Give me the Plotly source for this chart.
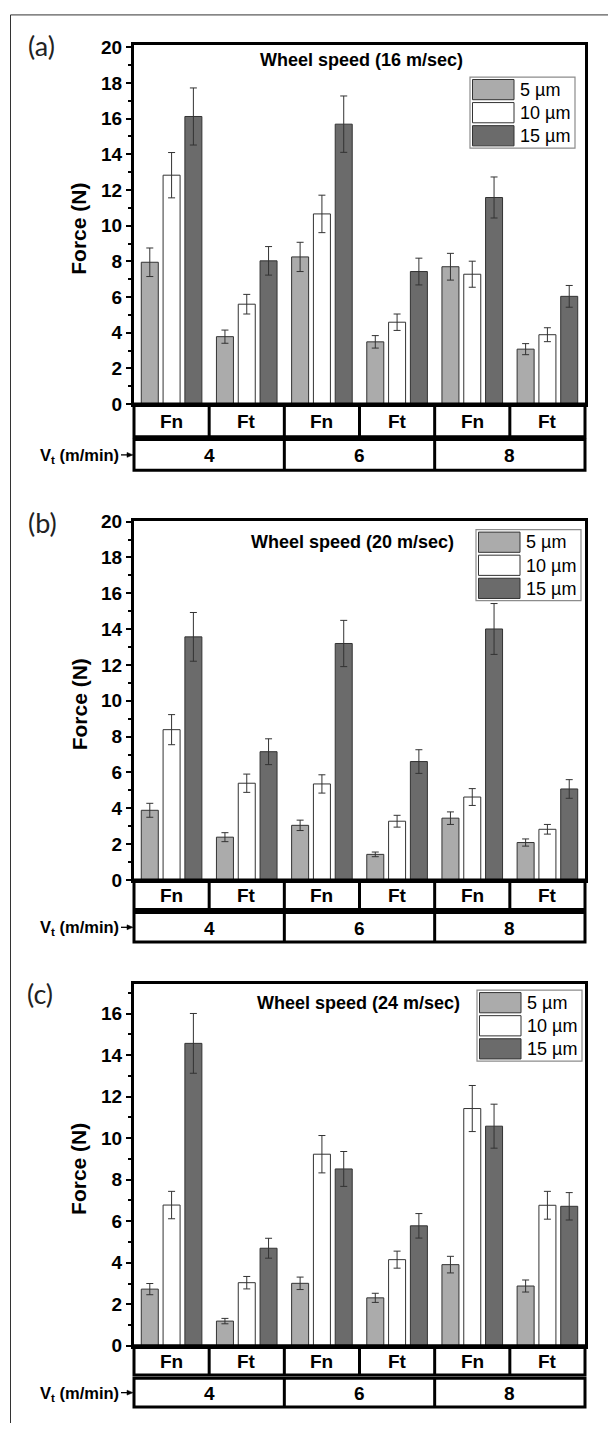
import plotly.graph_objects as go

# ---------------- data ----------------
force_types = ["Fn", "Ft", "Fn", "Ft", "Fn", "Ft"]
speed_labels = ["4", "6", "8"]
size_labels = ["5 µm", "10 µm", "15 µm"]
panel_letters = ["(a)", "(b)", "(c)"]
panel_titles = ["Wheel speed (16 m/sec)", "Wheel speed (20 m/sec)", "Wheel speed (24 m/sec)"]

a_5 = [7.95, 3.78, 8.25, 3.49, 7.70, 3.08]
a_5_err = [0.80, 0.37, 0.82, 0.35, 0.75, 0.31]
a_10 = [12.83, 5.60, 10.66, 4.59, 7.28, 3.89]
a_10_err = [1.27, 0.55, 1.05, 0.46, 0.73, 0.39]
a_15 = [16.12, 8.03, 15.69, 7.43, 11.58, 6.04]
a_15_err = [1.60, 0.80, 1.58, 0.75, 1.15, 0.61]

b_5 = [3.89, 2.39, 3.05, 1.43, 3.45, 2.09]
b_5_err = [0.39, 0.25, 0.29, 0.13, 0.35, 0.20]
b_10 = [8.39, 5.40, 5.36, 3.28, 4.63, 2.83]
b_10_err = [0.84, 0.51, 0.51, 0.33, 0.47, 0.27]
b_15 = [13.57, 7.16, 13.20, 6.61, 14.01, 5.08]
b_15_err = [1.36, 0.72, 1.29, 0.66, 1.42, 0.52]

c_5 = [2.73, 1.19, 3.01, 2.31, 3.91, 2.88]
c_5_err = [0.27, 0.13, 0.30, 0.22, 0.40, 0.29]
c_10 = [6.78, 3.04, 9.23, 4.15, 11.43, 6.77]
c_10_err = [0.66, 0.30, 0.90, 0.41, 1.11, 0.67]
c_15 = [14.57, 4.70, 8.52, 5.78, 10.58, 6.72]
c_15_err = [1.44, 0.48, 0.84, 0.59, 1.06, 0.66]

y_max = [20.1, 20.05, 17.42]

# ---------------- styling / layout constants ----------------
W, H = 608, 1434
colors = ["#ababab", "#ffffff", "#6b6b6b"]
FONT = "Liberation Sans"

# pixel geometry of each panel: (plot top, y=0 line)
panel_px = [(37.0, 400.7), (519.0, 883.3), (989.0, 1355.7)]
x_left, x_right = 134.0, 585.0
table_rows = [(33, 36, 67), (30, 33, 63), (29.5, 33, 62)]
legend_boxes = [(470, 69), (476, 528), (477, 995)]
title_pos = [(361, 52), (352, 541), (358, 1008)]
letter_pos = [(41, 37), (42, 521), (40, 998)]


def px(x):
    return x / W


def py(y):
    return 1 - y / H


def txt(text, x, y, size, xref="paper", xanchor="center", bold=True, family=FONT,
        color="black", angle=0):
    d = dict(text=text, xref=xref, yref="paper", x=x, y=y, xanchor=xanchor,
             yanchor="middle", showarrow=False, textangle=angle,
             font=dict(family=family, size=size, color=color))
    if bold:
        d["font"]["weight"] = "bold"
    return d


x_keys = [f"{f} {speed_labels[i // 2]}" for i, f in enumerate(force_types)]

series = [
    [(a_5, a_5_err), (a_10, a_10_err), (a_15, a_15_err)],
    [(b_5, b_5_err), (b_10, b_10_err), (b_15, b_15_err)],
    [(c_5, c_5_err), (c_10, c_10_err), (c_15, c_15_err)],
]

fig = go.Figure()
shapes = []
annotations = []
LINE = dict(color="black", width=3)

for p in range(3):
    sfx = "" if p == 0 else str(p + 1)
    xa, ya = "x" + sfx, "y" + sfx
    for s in range(3):
        vals, errs = series[p][s]
        fig.add_trace(go.Bar(
            x=x_keys, y=vals, name=size_labels[s], xaxis=xa, yaxis=ya,
            marker=dict(color=colors[s], line=dict(color="#333333", width=1)),
            error_y=dict(type="data", array=errs, color="#333333", thickness=1, width=3.5),
            showlegend=False,
        ))

    top, zero = panel_px[p]
    fig.layout["xaxis" + sfx] = dict(
        domain=[px(x_left), px(x_right)], anchor=ya, type="category",
        categoryorder="array", categoryarray=x_keys,
        showticklabels=False, ticks="", showline=True, mirror=True,
        linecolor="black", linewidth=3, showgrid=False, zeroline=False,
    )
    fig.layout["yaxis" + sfx] = dict(
        domain=[py(zero), py(top)], anchor=xa, range=[0, y_max[p]],
        tickmode="linear", tick0=0, dtick=2, ticks="outside", ticklen=5,
        tickwidth=2, tickcolor="black",
        minor=dict(dtick=1, ticks="outside", ticklen=3, tickwidth=2, tickcolor="black"),
        tickfont=dict(family=FONT, size=19, color="black", weight="bold"),
        showline=True, mirror=True, linecolor="black", linewidth=3,
        showgrid=False, zeroline=False,
    )

    # category table under the axis
    r1b, r2t, r2b = table_rows[p]
    xd = "x" + sfx + " domain"
    shapes.append(dict(type="rect", xref=xd, yref="paper", x0=0, x1=1,
                       y0=py(zero + r1b), y1=py(zero), line=LINE))
    shapes.append(dict(type="rect", xref=xd, yref="paper", x0=0, x1=1,
                       y0=py(zero + r2b), y1=py(zero + r2t), line=LINE))
    n = len(force_types)
    for i in range(1, n):
        shapes.append(dict(type="line", xref=xd, yref="paper", x0=i / n, x1=i / n,
                           y0=py(zero + r1b), y1=py(zero), line=LINE))
    m = len(speed_labels)
    for i in range(1, m):
        shapes.append(dict(type="line", xref=xd, yref="paper", x0=i / m, x1=i / m,
                           y0=py(zero + r2b), y1=py(zero + r2t), line=LINE))
    for i, f in enumerate(force_types):
        annotations.append(txt(f, (i + 0.5) / n, py(zero + r1b / 2 + 1), 19, xref=xd))
    for i, sp in enumerate(speed_labels):
        annotations.append(txt(sp, (i + 0.5) / m, py(zero + (r2t + r2b) / 2 + 1), 19, xref=xd))

    # V_t label with small arrow
    ymid = zero + (r2t + r2b) / 2
    annotations.append(txt("V<sub>t</sub> (m/min)", px(121), py(ymid + 1), 16.5, xanchor="right"))
    shapes.append(dict(type="line", xref="paper", yref="paper", x0=px(121), x1=px(129),
                       y0=py(ymid), y1=py(ymid), line=dict(color="black", width=1.3)))
    shapes.append(dict(type="path", xref="paper", yref="paper",
                       path=f"M {px(127)} {py(ymid - 2.5)} L {px(133)} {py(ymid)} L {px(127)} {py(ymid + 2.5)} Z",
                       fillcolor="black", line=dict(color="black", width=0.5)))

    # y-axis title
    annotations.append(txt("Force (N)", px(79), py((top + zero) / 2 + 4), 21, angle=-90))
    # panel title
    tx, ty = title_pos[p]
    annotations.append(txt(panel_titles[p], px(tx), py(ty), 18))
    # panel letter
    lx, ly = letter_pos[p]
    annotations.append(txt(panel_letters[p], px(lx), py(ly), 27, bold=False,
                           family="Lato", color="#222222"))

    # hand-drawn legend
    bx, by = legend_boxes[p]
    bw, bh = 105, 72
    shapes.append(dict(type="rect", xref="paper", yref="paper", x0=px(bx), x1=px(bx + bw),
                       y0=py(by + bh), y1=py(by), line=dict(color="#8c8c8c", width=1.2),
                       fillcolor="white"))
    for s in range(3):
        sy = by + 2.5 + s * 23.4
        shapes.append(dict(type="rect", xref="paper", yref="paper", x0=px(bx + 2.5), x1=px(bx + 44),
                           y0=py(sy + 20.5), y1=py(sy), line=dict(color="#333333", width=1),
                           fillcolor=colors[s]))
        annotations.append(txt(size_labels[s], px(bx + 48), py(sy + 10.5), 18,
                               xanchor="left", bold=False))

# outer frame (left and top edges visible)
shapes.append(dict(type="path", xref="paper", yref="paper",
                   path=f"M {px(10.5)} {py(H)} L {px(10.5)} {py(6)} L {px(W)} {py(6)}",
                   line=dict(color="#333333", width=1)))

fig.update_layout(
    width=W, height=H, margin=dict(l=0, r=0, t=0, b=0),
    paper_bgcolor="white", plot_bgcolor="white",
    barmode="group", bargap=0.13, bargroupgap=0.22,
    shapes=shapes, annotations=annotations, showlegend=False,
)

fig.write_html("out.html", config={"displayModeBar": False},
               post_script="document.body.style.margin='0';document.body.style.overflow='hidden';")
